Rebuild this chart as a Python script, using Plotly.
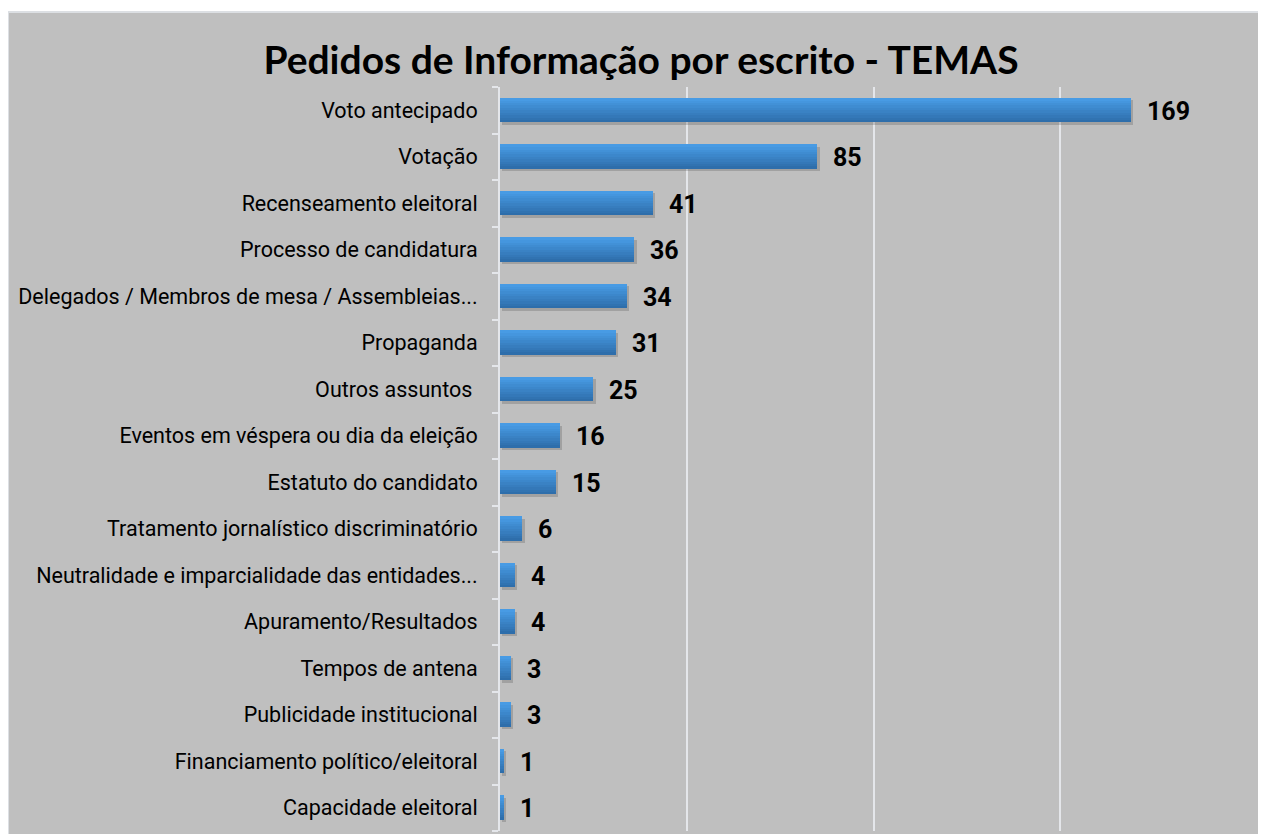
import plotly.graph_objects as go

# ---- data (top to bottom as shown) ----
categories = [
    "Voto antecipado",
    "Votação",
    "Recenseamento eleitoral",
    "Processo de candidatura",
    "Delegados / Membros de mesa / Assembleias...",
    "Propaganda",
    "Outros assuntos\u00a0",
    "Eventos em véspera ou dia da eleição",
    "Estatuto do candidato",
    "Tratamento jornalístico discriminatório",
    "Neutralidade e imparcialidade das entidades...",
    "Apuramento/Resultados",
    "Tempos de antena",
    "Publicidade institucional",
    "Financiamento político/eleitoral",
    "Capacidade eleitoral",
]
values = [169, 85, 41, 36, 34, 31, 25, 16, 15, 6, 4, 4, 3, 3, 1, 1]
x_ticks = [0, 50, 100, 150, 200]
title_text = "Pedidos de Informação por escrito - TEMAS"

# plot bottom-first so that the first category is at the top
cats = categories[::-1]
vals = values[::-1]

# page body has an 8px margin, so the figure starts at (8, 8)
OFF = 8
W, H = 1266 - OFF, 834 - OFF
L, R, T, B = 500 - OFF, 19, 87 - OFF, 3
pw, ph = W - L - R, H - T - B

fig = go.Figure()

BAR_W = 0.52
# shadow
fig.add_trace(go.Bar(
    y=cats, x=vals, orientation="h", base=0.6,
    width=BAR_W, offset=-BAR_W / 2 - 0.05,
    marker=dict(color="rgba(70,70,70,0.25)", line=dict(width=0)),
    hoverinfo="skip", showlegend=False,
))

# gradient stripes (dark bottom -> light top)
n = 10
dark = (46, 110, 171)
light = (72, 155, 228)
sw = BAR_W / n
for i in range(n):
    t = i / (n - 1)
    c = tuple(int(round(dark[k] + (light[k] - dark[k]) * t)) for k in range(3))
    fig.add_trace(go.Bar(
        y=cats, x=vals, orientation="h",
        width=sw + 0.004, offset=-BAR_W / 2 + i * sw,
        marker=dict(color="rgb(%d,%d,%d)" % c, line=dict(width=0)),
        hoverinfo="skip", showlegend=False,
    ))

# value labels
for c, v in zip(cats, vals):
    fig.add_annotation(
        x=v, y=c, xref="x", yref="y", text=str(v), showarrow=False,
        xanchor="left", yanchor="middle", xshift=14, yshift=-1,
        font=dict(family="Roboto", size=25, color="black", weight="bold"),
    )

# grey chart background
fig.add_shape(
    type="rect", xref="paper", yref="paper", layer="below",
    x0=(0 - L) / pw, x1=(W + 10 - L) / pw,
    y0=-0.05, y1=(H - B - 4) / ph,
    fillcolor="#bfbfbf", line=dict(color="#dcdfe3", width=2),
)

fig.update_layout(
    width=W, height=H,
    margin=dict(l=L, r=R, t=T, b=B, pad=0),
    paper_bgcolor="white",
    plot_bgcolor="#bfbfbf",
    barmode="overlay",
    bargap=0,
    showlegend=False,
    title=dict(
        text=title_text, x=(641 - OFF) / W, xanchor="center",
        y=1 - (60 - OFF) / H, yanchor="middle",
        font=dict(family="Lato", size=39, color="black", weight="bold"),
    ),
    xaxis=dict(
        range=[0, 200], tickvals=x_ticks, showticklabels=False,
        showgrid=True, gridcolor="#e4e6ea", gridwidth=2,
        zeroline=False, showline=False, ticks="",
    ),
    yaxis=dict(
        type="category", range=[-0.5, len(cats) - 0.5],
        showline=True, linecolor="#e4e6ea", linewidth=2,
        ticks="outside", tickson="boundaries", ticklen=6,
        tickcolor="#e4e6ea", tickwidth=2,
        ticklabelstandoff=16,
        tickfont=dict(family="Roboto", size=21.5, color="black"),
        showgrid=False, zeroline=False,
    ),
)

fig.write_html("out.html")
